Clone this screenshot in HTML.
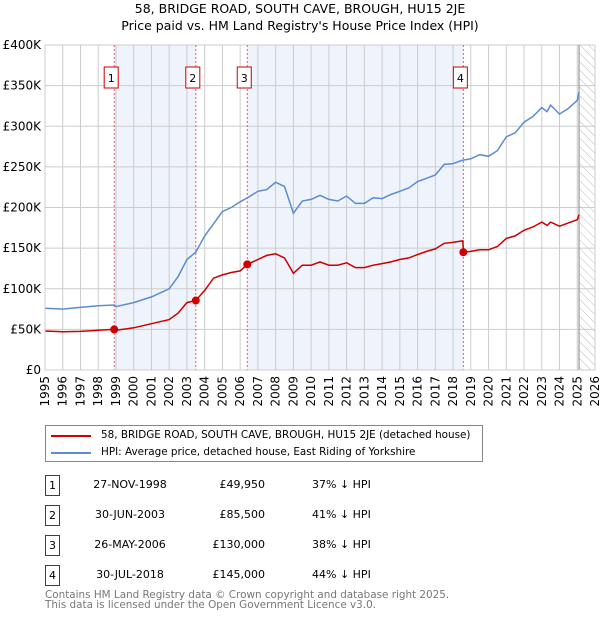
<!DOCTYPE html>
<html><head><meta charset="utf-8"><style>
body{margin:0;background:#fff;font-family:"DejaVu Sans","Liberation Sans",sans-serif;}
#wrap{position:relative;width:600px;height:620px;overflow:hidden}
.t{position:absolute;white-space:nowrap;font-size:11px;color:#000}
.box{position:absolute;border:1.5px solid #c00;height:21px;font-size:11px;text-align:center;line-height:19px;box-sizing:border-box;width:15px}
</style></head><body><div id="wrap">
<div class="t" style="left:0;width:600px;text-align:center;top:0;font-size:12.5px;line-height:17px">58, BRIDGE ROAD, SOUTH CAVE, BROUGH, HU15 2JE<br>Price paid vs. HM Land Registry's House Price Index (HPI)</div>
<svg id="chart" width="600" height="420" style="position:absolute;left:0;top:0"></svg>
<div style="position:absolute;left:45px;top:425px;width:438px;height:37px;border:1px solid #888;box-sizing:border-box">
 <div style="position:absolute;left:5px;top:9px;width:40px;height:2px;background:#c00"></div>
 <div class="t" style="left:55px;top:3px;font-size:10.4px">58, BRIDGE ROAD, SOUTH CAVE, BROUGH, HU15 2JE (detached house)</div>
 <div style="position:absolute;left:5px;top:26px;width:40px;height:2px;background:#5b8bd0"></div>
 <div class="t" style="left:55px;top:20px;font-size:10.4px">HPI: Average price, detached house, East Riding of Yorkshire</div>
</div>
<div id="rows"></div>
<div class="t" style="left:45px;top:590px;font-size:10.4px;line-height:10px;color:#777">Contains HM Land Registry data © Crown copyright and database right 2025.<br>This data is licensed under the Open Government Licence v3.0.</div>
</div>
<script>
const hpiYears=[1995,1996,1997,1998,1998.9,1999,2000,2001,2002,2002.5,2003,2003.5,2004,2004.5,2005,2005.5,2006,2006.5,2007,2007.5,2008,2008.5,2009,2009.5,2010,2010.5,2011,2011.5,2012,2012.5,2013,2013.5,2014,2014.5,2015,2015.5,2016,2016.5,2017,2017.5,2018,2018.5,2019,2019.5,2020,2020.5,2021,2021.5,2022,2022.5,2023,2023.3,2023.5,2024,2024.5,2025,2025.1];
const hpiValues=[76,75,77,79,80,78,83,90,100,115,136,145,165,180,195,200,207,213,220,222,231,226,193,208,210,215,210,208,214,205,205,212,211,216,220,224,232,236,240,253,254,258,260,265,263,270,287,292,305,312,323,318,326,315,322,332,342];
const ppYears=[1995,1996,1997,1998,1998.9,1999,2000,2001,2002,2002.5,2003,2003.5,2004,2004.5,2005,2005.5,2006,2006.4,2007,2007.5,2008,2008.5,2009,2009.5,2010,2010.5,2011,2011.5,2012,2012.5,2013,2013.5,2014,2014.5,2015,2015.5,2016,2016.5,2017,2017.5,2018,2018.55,2018.58,2019,2019.5,2020,2020.5,2021,2021.5,2022,2022.5,2023,2023.3,2023.5,2024,2024.5,2025,2025.1];
const ppValues=[48,47,47.5,49,49.95,49,52,57,62,70,83,85.5,98,113,117,120,122,130,136,141,143,138,119,129,129,133,129,129,132,126,126,129,131,133,136,138,142,146,149,156,157,159,145,146,148,148,152,162,165,172,176,182,178,182,177,181,185,191];
const saleLabels=["1","2","3","4"];
const saleYears=[1998.9,2003.5,2006.4,2018.58];
const salePrices=[49.95,85.5,130,145];
const saleDates=["27-NOV-1998","30-JUN-2003","26-MAY-2006","30-JUL-2018"];
const salePriceText=["£49,950","£85,500","£130,000","£145,000"];
const saleHpiText=["37% ↓ HPI","41% ↓ HPI","38% ↓ HPI","44% ↓ HPI"];
const yTicks=[0,50,100,150,200,250,300,350,400];
const yTickLabels=["£0","£50K","£100K","£150K","£200K","£250K","£300K","£350K","£400K"];
const xTicks=[1995,1996,1997,1998,1999,2000,2001,2002,2003,2004,2005,2006,2007,2008,2009,2010,2011,2012,2013,2014,2015,2016,2017,2018,2019,2020,2021,2022,2023,2024,2025,2026];

const L=45,R=595,T=45,B=370;
const X=y=>L+(y-1995)*(R-L)/31;
const Y=v=>B-v*(B-T)/400;
const FF='DejaVu Sans, Liberation Sans, sans-serif';
const svg=document.getElementById('chart');const NS='http://www.w3.org/2000/svg';
function mk(tag,a){const e=document.createElementNS(NS,tag);for(const k in a)e.setAttribute(k,a[k]);svg.appendChild(e);return e;}
const defs=mk('defs',{});
defs.innerHTML='<pattern id="hatch" width="6" height="6" patternUnits="userSpaceOnUse" patternTransform="rotate(-45)"><line x1="0" y1="0" x2="0" y2="6" stroke="#bbb" stroke-width="1"/></pattern>';
for(let i=0;i<saleYears.length;i+=2){
 const r=mk('rect',{x:X(saleYears[i]),y:T,width:X(saleYears[i+1])-X(saleYears[i]),height:B-T,fill:'#eef3fc'});
 
 
}
const h=mk('rect',{x:X(2025.1),y:T,width:R-X(2025.1),height:B-T,fill:'url(#hatch)'});


xTicks.forEach(t=>{
 const g=mk('line',{x1:X(t),x2:X(t),y1:T,y2:B,stroke:'#ccc','stroke-width':1});
 
 
 const tx=mk('text',{x:0,y:0,transform:`translate(${X(t)+4},${B+6}) rotate(-90)`,'text-anchor':'end','font-size':12,'font-family':FF});
 tx.textContent=t;
 
 
});
yTicks.forEach((t,i)=>{
 const g=mk('line',{x1:L,x2:R,y1:Y(t),y2:Y(t),stroke:'#ccc','stroke-width':1});
 
 
 const tx=mk('text',{x:L-4,y:Y(t)+4,'text-anchor':'end','font-size':12,'font-family':FF});
 tx.textContent=yTickLabels[i];
 
 
});
const ln=mk('line',{x1:X(2025.1),x2:X(2025.1),y1:T,y2:B,stroke:'#999','stroke-width':1.2});


saleYears.forEach((s,i)=>{
 const d=mk('line',{x1:X(s),x2:X(s),y1:T,y2:B,stroke:'#e06060','stroke-width':1,'stroke-dasharray':'2,2'});
 
 
 const bx=mk('rect',{x:X(s)-10,y:67,width:14,height:21,fill:'#fff',stroke:'#c00','stroke-width':1});
 
 
 const tx=mk('text',{x:X(s)-3,y:82,'text-anchor':'middle','font-size':11,'font-family':FF});
 tx.textContent=saleLabels[i];
 
 
});
const pts=(xs,vs)=>xs.map((x,i)=>X(x).toFixed(1)+','+Y(vs[i]).toFixed(1)).join(' ');
const hp=mk('polyline',{points:pts(hpiYears,hpiValues),fill:'none',stroke:'#5b8bd0','stroke-width':1.5});


const pp=mk('polyline',{points:pts(ppYears,ppValues),fill:'none',stroke:'#c00','stroke-width':1.5});


saleYears.forEach((s,i)=>{
 const c=mk('circle',{cx:X(s),cy:Y(salePrices[i]),r:4,fill:'#c00'});
 
 
});
const ax=mk('path',{d:`M${L},${T}V${B}H${R}`,fill:'none',stroke:'#ccc'});


const rows=document.getElementById('rows');
saleLabels.forEach((l,i)=>{
 const top=475+i*30;
 const d=document.createElement('div');
 d.innerHTML=`<div class="box" style="left:45px;top:${top}px">${l}</div>
 <div class="t" style="left:80px;width:100px;text-align:center;top:${top+3}px">${saleDates[i]}</div>
 <div class="t" style="left:195px;width:70px;text-align:right;top:${top+3}px">${salePriceText[i]}</div>
 <div class="t" style="left:312px;top:${top+3}px">${saleHpiText[i]}</div>`;
 
 
 rows.appendChild(d);
});
</script>
</body></html>
